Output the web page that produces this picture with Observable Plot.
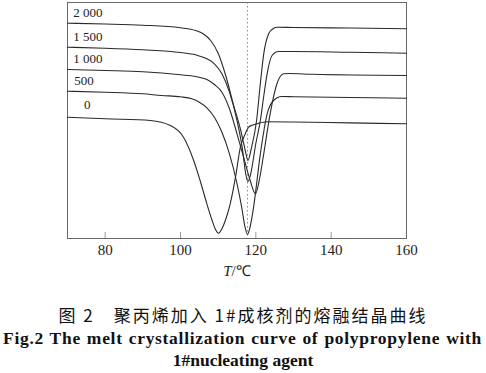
<!DOCTYPE html>
<html><head><meta charset="utf-8">
<script src="https://cdn.jsdelivr.net/npm/d3@7"></script>
<script src="https://cdn.jsdelivr.net/npm/@observablehq/plot@0.6"></script>
<style>
body{margin:0;background:#fff;}
#wrap{position:relative;width:486px;height:373px;overflow:hidden;}
#chart svg{display:block;}
.cap{position:absolute;left:0;width:486px;text-align:center;white-space:nowrap;color:#111;line-height:22px;}
#cn{top:304px;font-family:"Noto Sans CJK SC";font-size:17px;letter-spacing:2px;}
#en1{top:327px;left:3px;width:479px;font-family:"Liberation Serif";font-weight:bold;font-size:17.5px;letter-spacing:0.7px;text-align:justify;text-align-last:justify;white-space:normal;}
#en2{top:349px;font-family:"Liberation Serif";font-weight:bold;font-size:17.5px;}
</style></head>
<body>
<div id="wrap">
<div id="chart"></div>
<div class="cap" id="cn">图 2　聚丙烯加入 1#成核剂的熔融结晶曲线</div>
<div class="cap" id="en1">Fig.2 The melt crystallization curve of polypropylene with</div>
<div class="cap" id="en2">1#nucleating agent</div>
</div>
<script>
// Series (nucleating agent content) and their sampled curves (T in °C, relative heat flow)
const seriesNames = ["0", "500", "1 000", "1 500", "2 000"];

const t0 = [70, 80, 92, 97.3, 100.8, 103.5, 105.2, 107, 108.4, 109.2, 110.1, 111, 111.9, 113.2, 114.6, 115.9, 117.2, 118.1, 119.2, 120.5, 123, 130, 145, 160];
const v0 = [121.3, 119.7, 118, 113, 101.3, 78, 58, 34.7, 18, 9.7, 5.3, 9.7, 18, 34.7, 61.3, 91.3, 104.7, 111.3, 113.5, 115, 116.7, 116.5, 115.6, 114.7];

const t500 = [70, 80, 90, 95, 100, 103, 105, 107, 109, 111, 113, 115, 116.3, 117.1, 117.8, 118.5, 119.4, 121.2, 123, 124.7, 126.9, 130, 145, 160];
const v500 = [147.3, 146.3, 144.7, 143, 141.7, 139.7, 136.3, 130.7, 121.3, 106.3, 84.7, 55, 30, 12, 4, 12, 31.3, 84.7, 124.7, 138, 142, 141.8, 141, 140.3];

const t1000 = [70, 80, 90, 100, 104, 107, 109, 111, 113, 115, 117, 118.5, 119.9, 121, 122.1, 123.8, 125.6, 127.4, 129, 135, 160];
const v1000 = [169, 168, 166.7, 163.7, 162, 159, 154, 146.3, 129.7, 104.7, 78, 58, 44.7, 60, 84.7, 124.7, 154.7, 164.7, 165, 164.2, 163];

const t1500 = [70, 80, 90, 100, 104, 107, 109, 111, 113, 115, 116.5, 117.3, 117.9, 118.6, 120, 121.2, 122.2, 123, 124.3, 126, 130, 145, 160];
const v1500 = [191.3, 190.3, 188.7, 186, 183.7, 179.7, 174.7, 164.7, 146.3, 118, 88, 65, 57, 64, 95, 118, 145, 164.7, 183, 187, 187, 186.2, 185.3];

const t2000 = [70, 80, 90, 100, 104, 106, 108, 110, 112, 114, 116, 117.2, 117.9, 118.8, 120.2, 121.2, 122.1, 123.4, 124.3, 125.6, 130, 145, 160];
const v2000 = [215.3, 214.5, 213.3, 210.7, 208, 204.7, 198, 185.3, 163, 134.7, 108, 88, 78, 90, 118, 155, 184.7, 204.7, 209, 211.3, 211, 210.5, 209.7];

// Curve labels (placed in data coordinates)
const labelTexts = ["2 000", "1 500", "1 000", "500", "0"];
const labelT = [71.5, 71.5, 71.5, 71.8, 74.4];
const labelV = [225.3, 201.3, 180, 158, 134];

const xTicks = [80, 100, 120, 140, 160];
const dashT = 117.8;
const xLabel = "T/℃";

const curves = [[t0, v0], [t500, v500], [t1000, v1000], [t1500, v1500], [t2000, v2000]];
const rows = [];
curves.forEach(([ts, vs], i) => ts.forEach((t, j) => rows.push({series: seriesNames[i], T: t, v: vs[j]})));
const labels = labelTexts.map((s, i) => ({s, T: labelT[i], v: labelV[i]}));

const chart = Plot.plot({
  width: 486, height: 290,
  marginTop: 2, marginBottom: 52, marginLeft: 67, marginRight: 80,
  x: {domain: [70, 160]},
  y: {domain: [0, 236], axis: null},
  style: {fontFamily: "Liberation Serif", background: "transparent", color: "#222"},
  marks: [
    Plot.ruleX([dashT], {stroke: "#888", strokeDasharray: "1.5,2.5", strokeWidth: 1}),
    Plot.ruleX(xTicks, {insetTop: 230, stroke: "#999", strokeWidth: 1}),
    Plot.frame({stroke: "#666", strokeWidth: 1}),
    Plot.axisX({ticks: xTicks, tickSize: 0, tickPadding: 6, fontSize: 15, label: null, tickFormat: d => String(d)}),
    Plot.line(rows, {x: "T", y: "v", z: "series", curve: "monotone-x", stroke: "#2a2a2a", strokeWidth: 1.1}),
    Plot.text(labels, {x: "T", y: "v", text: "s", textAnchor: "start", fontSize: 13, fill: "#222"}),
    Plot.text([xLabel], {frameAnchor: "bottom", dy: 37, text: d => d, fontSize: 15, fill: "#222"})
  ]
});
document.getElementById("chart").appendChild(chart);

// italicise the T of the axis label
chart.querySelectorAll("text").forEach(t => {
  if (t.textContent === xLabel) {
    t.textContent = "";
    const a = document.createElementNS("http://www.w3.org/2000/svg", "tspan");
    a.setAttribute("font-style", "italic");
    a.textContent = "T";
    const b = document.createElementNS("http://www.w3.org/2000/svg", "tspan");
    b.textContent = "/℃";
    t.appendChild(a); t.appendChild(b);
  }
});
</script>
</body></html>
